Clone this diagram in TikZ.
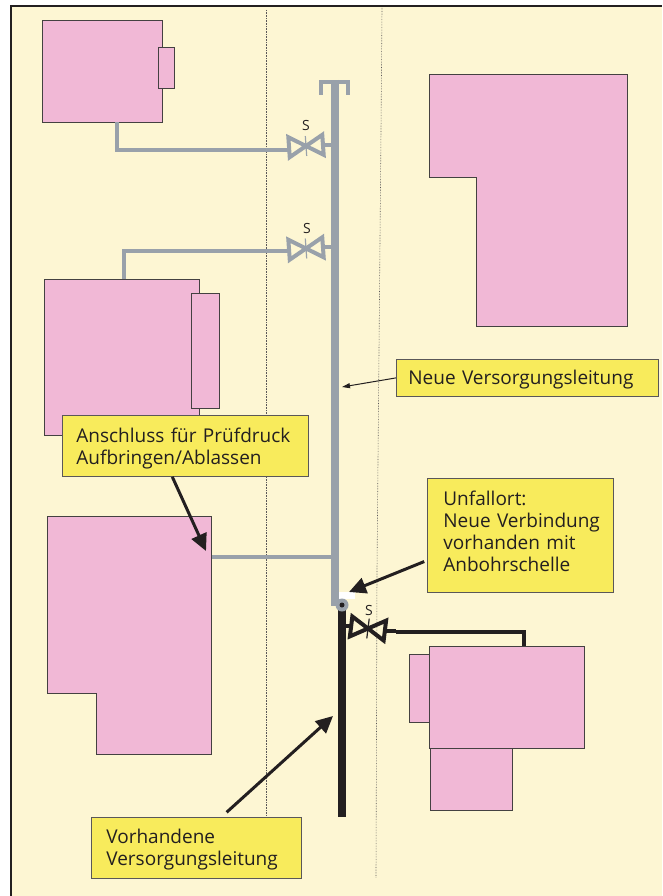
\documentclass[tikz,border=0pt]{standalone}
\usepackage{fontspec}
\setmainfont{Open Sans}
\usetikzlibrary{arrows.meta}

\definecolor{creambg}{HTML}{FDF6D3}
\definecolor{vesselpink}{HTML}{F1B8D6}
\definecolor{notefill}{HTML}{F8EB5C}
\definecolor{pipegray}{HTML}{99A1AA}
\definecolor{pipeblack}{HTML}{231F20}

\tikzset{
  vessel/.style={draw=pipeblack!85,line width=0.8pt,fill=vesselpink,inner sep=0pt,anchor=north west},
  note/.style={draw=pipeblack!75,line width=0.8pt,fill=notefill,inner sep=0pt,anchor=north west,align=left,
    font=\fontsize{19}{22}\selectfont,text=pipeblack},
  slabel/.style={inner sep=0pt,font=\fontsize{14}{14}\selectfont,text=pipeblack},
  thinpipe/.style={line width=4pt,line join=miter},
  mainpipe/.style={line width=8pt},
  border/.style={densely dotted,line width=0.6pt,pipeblack!75},
  pointer/.style={pipeblack,line width=3pt,-{Triangle[length=17pt,width=16pt]}},
  valve/.pic={
    \draw[line width=4pt,line join=miter] (-17,-10)--(-17,10)--(17,-10)--(17,10)--cycle;
    \draw[line width=1.2pt] (0,-10)--(0,10);
    \coordinate (-l) at (-17,0);
    \coordinate (-r) at (17,0);
  },
}

\begin{document}
\begin{tikzpicture}[x=1pt,y=-1pt]
  \useasboundingbox (0,0) rectangle (662,896);
  \fill[creambg] (11,6) rectangle (662,896);
  \draw[pipeblack,line width=2pt] (11,896)--(11,6)--(662,6);

  %Trench limits
  \draw[border] (266.5,10)--(266.5,816);
  \draw[border] (382,8)--(381,130)--(377,570)--(376,878);

  %Buildings
  \begin{scope}[xshift=-0.3pt,yshift=0.4pt]
    \node[vessel,minimum width=120pt,minimum height=102pt] (housea) at (42,20) {};
    \node[vessel,minimum width=16pt,minimum height=41pt] (housetaba) at (158,47) {};
    \node[vessel,minimum width=155pt,minimum height=156pt] (houseb) at (44,279) {};
    \node[vessel,minimum width=28pt,minimum height=115pt] (housetabb) at (191,293) {};
    \draw[draw=pipeblack!85,line width=0.8pt,fill=vesselpink] (430,75)--(628,75)--(628,327)--(477,327)--(477,178)--(430,178)--cycle;
    \draw[draw=pipeblack!85,line width=0.8pt,fill=vesselpink] (48,517)--(212,517)--(212,755)--(97,755)--(97,694)--(48,694)--cycle;
    \node[vessel,minimum width=82pt,minimum height=62pt] (housec) at (430,748) {};
    \node[vessel,minimum width=20pt,minimum height=68pt] (housetabc) at (409,654) {};
    \node[vessel,minimum width=155pt,minimum height=102pt] (housed) at (429,646) {};
  \end{scope}

  %Pipes
  \coordinate (maintop) at (335,80);
  \coordinate (mainend) at (335,606);
  \coordinate (oldtop) at (342,605);
  \coordinate (oldend) at (342,817);
  \coordinate (teebar) at (335,82);
  \coordinate (teeleft) at (321,95);
  \coordinate (teeright) at (348,95);
  \coordinate (corda) at (117,150);
  \coordinate (cordb) at (124,251);
  \coordinate (cordd) at (524,632);
  \coordinate (gapd) at (396,632);

  \pic[pipegray,rotate=4] (valvea) at (306,146) {valve};
  \pic[pipegray,rotate=4] (valveb) at (306,248.5) {valve};
  \pic[pipeblack,rotate=-7] (valvec) at (368,628.5) {valve};
  \node[slabel] (labela) at (306,126) {S};
  \node[slabel] (labelb) at (307,228) {S};
  \node[slabel] (labelc) at (369,610) {S};

  \draw[pipegray,mainpipe] (maintop)--(mainend);
  \draw[pipegray,line width=4pt,line join=miter] (teeleft)--(teeleft|-teebar)--(teeright|-teebar)--(teeright);
  \draw[pipegray,thinpipe] (housea.south west -| corda)--(corda)--(valvea-l|-corda);
  \draw[pipegray,thinpipe] (valvea-r)--(maintop|-valvea-r);
  \draw[pipegray,thinpipe] (houseb.north west -| cordb)--(cordb)--(valveb-l|-cordb);
  \draw[pipegray,thinpipe] (valveb-r)--(maintop|-valveb-r);
  \draw[pipegray,line width=3.4pt] (212,557)--(331,557);

  \draw[pipeblack,mainpipe] (oldtop)--(oldend);
  \draw[pipeblack,thinpipe] (oldtop|-valvec-l)--(valvec-l);
  \draw[pipeblack,thinpipe] (valvec-r)--(gapd|-valvec-r);
  \draw[pipeblack,thinpipe] (gapd)--(cordd)--(cordd|-housed.north);

  %Joint at the accident site
  \fill[white] (339,592) rectangle (355,599);
  \fill[pipegray] (oldtop) circle (6.5pt);
  \fill[pipeblack] (oldtop) circle (2.5pt);

  %Notes
  \node[note,text width=262pt,minimum height=37pt] (noteneue) at (396,359) {\hspace*{12pt}\rule{0pt}{18pt}Neue Versorgungsleitung};
  \node[note,text width=246pt,minimum height=61pt] (noteanschluss) at (62,415) {\hspace*{14pt}\rule{0pt}{20pt}Anschluss für Prüfdruck\\\hspace*{14pt}Aufbringen/Ablassen};
  \node[note,text width=186pt,minimum height=114pt] (noteunfall) at (427,478) {\hspace*{16pt}Unfallort:\\\hspace*{16pt}Neue Verbindung\\\hspace*{16pt}vorhanden mit\\\hspace*{16pt}\rule[-8pt]{0pt}{8pt}Anbohrschelle};
  \node[note,text width=210pt,minimum height=61pt] (notevorh) at (91,817) {\hspace*{15pt}\rule{0pt}{18pt}Vorhandene\\\hspace*{15pt}Versorgungsleitung};

  \coordinate (hitneue) at (342,387);
  \coordinate (hitanschluss) at (206,551);
  \coordinate (hitunfall) at (349,592);
  \coordinate (hitvorh) at (333,716);
  \draw[pipeblack,line width=1pt,-{Triangle[length=8pt,width=5pt]}] (noteneue.west)--(hitneue);
  \draw[pointer] (noteanschluss.-113)--(hitanschluss);
  \draw[pointer,shorten <=3pt] (noteunfall.195)--(hitunfall);
  \draw[pointer,shorten <=7pt] (notevorh.51)--(hitvorh);
\end{tikzpicture}
\end{document}
